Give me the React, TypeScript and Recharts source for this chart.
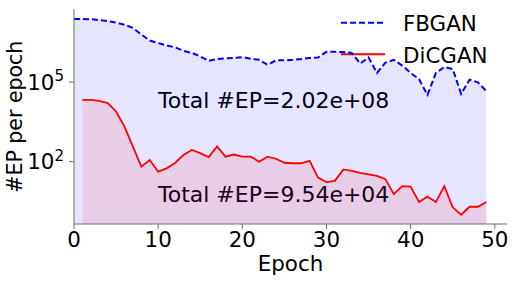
import { ComposedChart, Area, XAxis, YAxis, Customized } from 'recharts';

const EPOCHS = [
  0, 1, 2, 3, 4, 5, 6, 7, 8, 9, 10, 11, 12, 13, 14, 15, 16, 17, 18, 19, 20, 21, 22, 23, 24,
  25, 26, 27, 28, 29, 30, 31, 32, 33, 34, 35, 36, 37, 38, 39, 40, 41, 42, 43, 44, 45, 46, 47, 48, 49,
];

// #EP per epoch, FBGAN
const FBGAN = [
  2.4e7, 2.4e7, 2.34e7, 2.19e7, 2.0e7, 1.74e7, 1.45e7, 1.1e7, 6.2e6, 3.7e6,
  2.95e6, 2.4e6, 2.04e6, 1.51e6, 1.26e6, 9.3e5, 6.3e5, 7.4e5, 7.8e5, 8.1e5,
  8.7e5, 7.6e5, 6.9e5, 4.5e5, 6.6e5, 6.6e5, 6.9e5, 7.4e5, 8.1e5, 8.5e5,
  1.38e6, 1.38e6, 1.35e6, 1.26e6, 5.0e5, 8.5e5, 2.2e5, 5.4e5, 6.9e5, 4.2e5,
  2.2e5, 1.29e5, 3.3e4, 2.2e5, 3.7e5, 3.1e5, 3.6e4, 1.23e5, 9.8e4, 4.5e4,
];

// #EP per epoch, DiCGAN (starts at epoch 1)
const DICGAN = [
  null, 21400, 21400, 19500, 16200, 7800, 2090, 370, 65, 115,
  42, 56, 89, 178, 275, 209, 148, 372, 155, 186,
  155, 155, 100, 155, 129, 91, 87, 87, 107, 25,
  17, 19, 51, 45, 38, 33, 29, 22, 6, 12,
  11.5, 3, 4.8, 3, 12, 1.9, 1, 2, 2, 3,
];

const X_TICKS = [0, 10, 20, 30, 40, 50];
const Y_TICKS = [100, 100000];
const TOTALS = ['Total #EP=2.02e+08', 'Total #EP=9.54e+04'];
const NAMES = ['FBGAN', 'DiCGAN'];

const data = EPOCHS.map((e, i) => ({ epoch: e, fbgan: FBGAN[i], dicgan: DICGAN[i] }));

const FONT = '"DejaVu Sans", sans-serif';
const AXIS = '#6f6f6f';

const XTick = (props: any) => {
  const { x, y, payload } = props;
  return (
    <text x={x} y={y + 15.5} textAnchor="middle" fontSize={21.4} fontFamily={FONT} fill="#000">
      {payload.value}
    </text>
  );
};

const YTick = (props: any) => {
  const { x, y, payload } = props;
  const exp = Math.round(Math.log10(payload.value));
  return (
    <text x={x} y={y + 7.7} textAnchor="end" fontSize={21.4} fontFamily={FONT} fill="#000">
      10<tspan dy={-8.5} fontSize={15}>{exp}</tspan>
    </text>
  );
};

const Overlay = () => (
  <g fontFamily={FONT} fill="#000">
    <line x1={341} x2={385} y1={22.7} y2={22.7} stroke="#0000ff" strokeWidth={2} strokeDasharray="6 3" />
    <text x={403} y={30.5} fontSize={21.4}>{NAMES[0]}</text>
    <line x1={341} x2={385} y1={54.3} y2={54.3} stroke="#ff0000" strokeWidth={2} />
    <text x={403} y={62.5} fontSize={21.4}>{NAMES[1]}</text>
    <text x={158} y={108.3} fontSize={22}>{TOTALS[0]}</text>
    <text x={158} y={201.7} fontSize={22}>{TOTALS[1]}</text>
    <text x={290.5} y={270.7} fontSize={21.4} textAnchor="middle">Epoch</text>
    <text x={22.5} y={116.7} fontSize={20.5} textAnchor="middle" transform="rotate(-90, 22.5, 116.7)">
      #EP per epoch
    </text>
  </g>
);

export default function App() {
  return (
    <div style={{ position: 'absolute', left: 0, top: 0, background: '#fff' }}>
      <ComposedChart
        width={515}
        height={281}
        data={data}
        margin={{ top: 9, right: 8, left: 0, bottom: 0 }}
      >
        <XAxis
          dataKey="epoch"
          type="number"
          domain={[0, 51.45]}
          allowDataOverflow
          ticks={X_TICKS}
          height={57}
          tickSize={5}
          tickMargin={2}
          tick={<XTick />}
          stroke={AXIS}
          tickLine={{ stroke: AXIS }}
        />
        <YAxis
          type="number"
          scale="log"
          domain={[0.447, 5.69e7]}
          allowDataOverflow
          ticks={Y_TICKS}
          width={74}
          tickSize={5}
          tickMargin={5}
          tick={<YTick />}
          stroke={AXIS}
          tickLine={{ stroke: AXIS }}
        />
        <Area
          type="linear"
          dataKey="fbgan"
          stroke="#0000ff"
          strokeWidth={2}
          strokeDasharray="6 3"
          fill="#0000ff"
          fillOpacity={0.1}
          baseValue="dataMin"
          isAnimationActive={false}
          dot={false}
          activeDot={false}
        />
        <Area
          type="linear"
          dataKey="dicgan"
          stroke="#ff0000"
          strokeWidth={1.8}
          fill="#ff0000"
          fillOpacity={0.1}
          baseValue="dataMin"
          isAnimationActive={false}
          dot={false}
          activeDot={false}
        />
        <Customized component={Overlay} />
      </ComposedChart>
    </div>
  );
}
